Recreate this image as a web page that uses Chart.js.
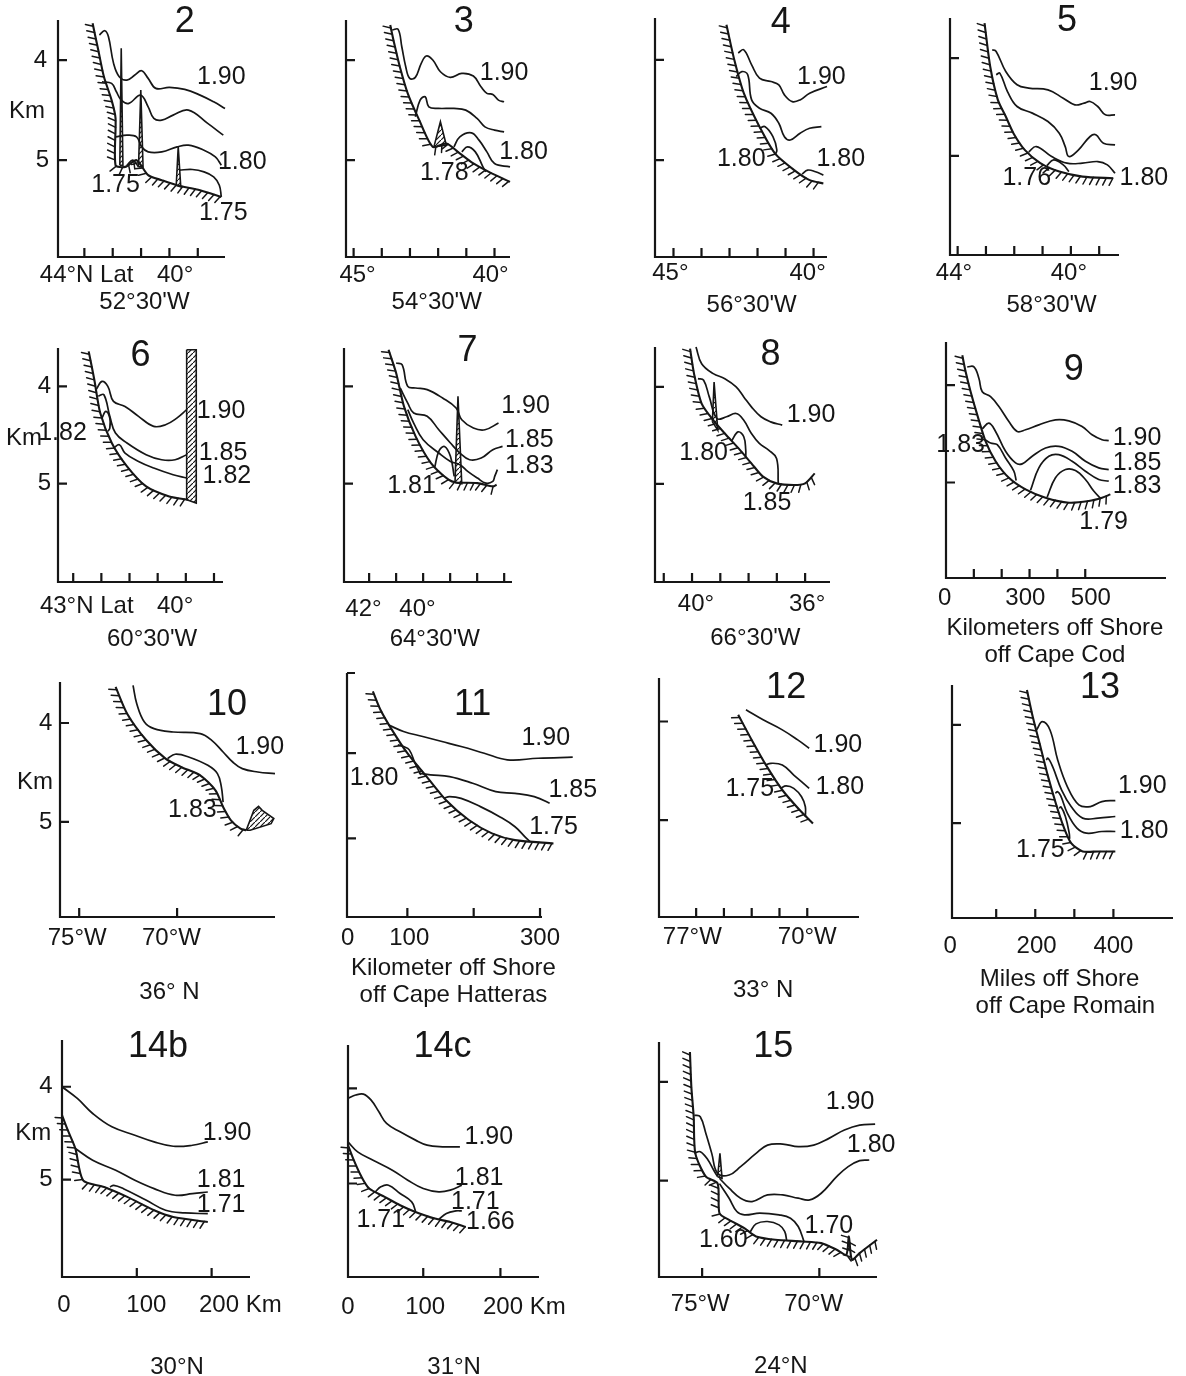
<!DOCTYPE html>
<html>
<head>
<meta charset="utf-8">
<script src="https://cdn.jsdelivr.net/npm/chart.js@4.4.1/dist/chart.umd.min.js"></script>
<style>
html, body { margin: 0; padding: 0; background: #fff; overflow: hidden; }
#page { position: relative; width: 1186px; height: 1376px; }
#page canvas { position: absolute; }
</style>
</head>
<body>
<div id="page"></div>
<script>
// ---- data: [x, depth km] pairs ----
const yTicks = [4, 5];

// 2
const p2_xTicks = [43, 42, 41, 40, 39];
const p2_bottom = [[42.71,3.633],[42.51,3.9],[42.31,4.167],[42.04,4.4],[41.90,4.583],[41.90,5.05],[41.56,5.067],[41.16,5.0],[40.75,5.15],[40.27,5.2],[39.73,5.25],[38.92,5.3],[38.17,5.367]];
const p2_spikes = [[[41.75,5.05],[41.70,3.883],[41.64,5.05]], [[41.09,5.067],[41.01,4.3],[40.93,5.067]], [[39.76,5.25],[39.69,4.867],[39.60,5.267]]];
const p2_c190 = [[42.47,3.75],[42.28,3.707],[42.15,3.767],[41.97,4.033],[41.77,4.167],[41.50,4.2],[41.22,4.15],[40.98,4.107],[40.75,4.183],[40.48,4.283],[40.00,4.273],[39.46,4.293],[38.92,4.35],[38.44,4.417],[38.04,4.483]];
const p2_c185 = [[42.38,4.217],[42.04,4.233],[41.87,4.317],[41.70,4.4],[41.43,4.433],[41.02,4.35],[40.75,4.467],[40.55,4.583],[40.27,4.6],[39.87,4.55],[39.33,4.5],[38.65,4.633],[38.10,4.75]];
const p2_c180 = [[41.90,4.767],[41.50,4.75],[41.16,4.767],[40.98,4.867],[40.75,4.917],[40.27,4.917],[39.73,4.867],[39.33,4.85],[38.78,4.9],[38.38,4.967],[38.17,5.05]];
const p2_c175a = [[41.50,5.05],[41.29,5.0],[41.09,5.067]];
const p2_c175b = [[39.66,5.1],[39.19,5.093],[38.78,5.117],[38.44,5.167],[38.24,5.25],[38.17,5.367]];
const p2_labels = [['1.90',38.17,4.167],['1.80',37.43,5.017],['1.75',41.90,5.25],['1.75',38.10,5.533]];
const p2_axisText = [['4',44.55,4.0],['5',44.48,5.0],['Km',45.02,4.517],['44°N Lat',42.92,6.15],['40°',39.80,6.15],["52°30'W",40.88,6.417]];
const p2_title = ['2',39.46,3.617];

// 3
const p3_xTicks = [45, 44, 43, 42, 41, 40];
const p3_bottom = [[43.70,3.65],[43.56,3.833],[43.36,4.067],[43.08,4.333],[42.67,4.6],[42.19,4.867],[41.71,4.833],[41.30,4.917],[40.75,5.033],[40.20,5.117],[39.45,5.217]];
const p3_spikes = [[[42.15,4.867],[41.92,4.617],[41.71,4.85]]];
const p3_c190 = [[43.63,3.7],[43.42,3.693],[43.29,3.867],[43.15,4.067],[43.01,4.183],[42.81,4.173],[42.60,4.033],[42.42,3.96],[42.19,4.0],[41.92,4.117],[41.57,4.173],[41.16,4.133],[40.75,4.16],[40.48,4.267],[40.27,4.333],[40.06,4.343],[39.86,4.4],[39.66,4.417]];
const p3_c185 = [[42.81,4.567],[42.64,4.4],[42.46,4.367],[42.33,4.467],[41.99,4.483],[41.44,4.483],[41.02,4.5],[40.62,4.583],[40.34,4.667],[40.00,4.7],[39.66,4.717]];
const p3_c180 = [[41.44,4.867],[41.23,4.767],[40.82,4.727],[40.55,4.8],[40.27,4.917],[40.00,5.033],[39.45,5.067]];
const p3_c178 = [[41.16,4.917],[40.96,4.867],[40.68,4.917],[40.41,5.067],[40.31,5.117]];
const p3_labels = [['1.90',39.66,4.133],['1.80',38.97,4.917],['1.78',41.78,5.127]];
const p3_axisText = [['45°',44.86,6.15],['40°',40.14,6.15],["54°30'W",42.05,6.417]];
const p3_title = ['3',41.09,3.617];

// 4
const p4_xTicks = [45, 44, 43, 42, 41, 40];
const p4_bottom = [[43.11,3.65],[42.83,4.0],[42.49,4.333],[41.93,4.667],[41.38,4.933],[40.69,5.1],[40.14,5.2],[39.65,5.233]];
const p4_c190 = [[42.69,3.933],[42.49,3.9],[42.21,4.05],[41.93,4.183],[41.52,4.217],[41.24,4.25],[41.04,4.35],[40.76,4.417],[40.48,4.4],[40.14,4.333],[39.52,4.267]];
const p4_c185 = [[42.76,4.167],[42.56,4.117],[42.35,4.15],[42.21,4.4],[41.93,4.483],[41.52,4.533],[41.24,4.633],[41.04,4.767],[40.83,4.8],[40.48,4.733],[40.14,4.683],[39.72,4.667]];
const p4_c180a = [[41.93,4.683],[41.73,4.667],[41.45,4.767],[41.31,4.9],[41.38,4.95]];
const p4_c180b = [[40.41,5.14],[40.21,5.1],[39.93,5.117],[39.65,5.15]];
const p4_labels = [['1.90',39.72,4.173],['1.80',42.58,4.993],['1.80',39.03,4.993]];
const p4_axisText = [['45°',45.11,6.133],['40°',40.21,6.133],["56°30'W",42.21,6.45]];
const p4_title = ['4',41.17,3.63];

// 5
const p5_xTicks = [44, 43, 42, 41, 40, 39];
const p5_bottom = [[43.05,3.642],[42.85,4.086],[42.58,4.427],[42.30,4.598],[42.03,4.768],[41.63,4.939],[41.08,5.075],[40.41,5.161],[39.59,5.212],[38.51,5.229]];
const p5_c190 = [[42.78,3.915],[42.64,3.932],[42.30,4.137],[41.90,4.273],[41.49,4.307],[40.81,4.325],[40.27,4.41],[39.86,4.478],[39.53,4.461],[39.32,4.444],[39.05,4.495],[38.78,4.58],[38.44,4.58]];
const p5_c185 = [[42.64,4.171],[42.51,4.154],[42.24,4.342],[41.90,4.495],[41.36,4.563],[40.81,4.649],[40.41,4.768],[40.20,4.905],[40.07,5.007],[39.73,4.939],[39.32,4.802],[39.12,4.785],[38.85,4.871],[38.44,4.888]];
const p5_c180 = [[41.49,4.96],[41.22,4.905],[40.68,5.007],[40.14,5.075],[39.59,5.075],[39.05,5.058],[38.71,5.092],[38.44,5.178]];
const p5_c176 = [[40.85,5.1],[40.61,5.041],[40.27,5.092],[40.07,5.161]];
const p5_labels = [['1.90',38.51,4.256],['1.76',41.56,5.229],['1.80',37.42,5.229]];
const p5_axisText = [['44°',44.13,6.2],['40°',40.07,6.2],["58°30'W",40.68,6.526]];
const p5_title = ['5',40.14,3.625];

// 6
const p6_xTicks = [43, 42, 41, 40, 39, 38];
const p6_bottom = [[42.45,3.641],[42.25,3.932],[42.04,4.274],[41.63,4.582],[41.09,4.822],[40.41,5.028],[39.59,5.131],[38.91,5.165]];
const p6_wall = [[[38.97,3.624],[38.63,3.624],[38.63,5.199],[38.97,5.165]]];
const p6_c190 = [[42.18,4.03],[41.98,3.949],[41.77,4.0],[41.57,4.154],[41.16,4.206],[40.68,4.308],[40.14,4.411],[39.72,4.394],[39.32,4.326],[38.97,4.24]];
const p6_c185 = [[42.11,4.1],[41.91,4.086],[41.70,4.308],[41.50,4.48],[41.09,4.582],[40.41,4.702],[39.86,4.754],[39.38,4.754],[38.97,4.702]];
const p6_c182 = [[41.57,4.634],[41.36,4.6],[41.16,4.685],[40.68,4.771],[40.14,4.839],[39.45,4.908],[38.97,4.942]];
const p6_c182b = [[41.98,4.326],[41.84,4.257],[41.70,4.326],[41.70,4.428],[41.77,4.463]];
const p6_labels = [['1.82',43.38,4.48],['1.90',37.75,4.257],['1.85',37.68,4.685],['1.82',37.54,4.925]];
const p6_axisText = [['4',44.02,4.0],['5',44.02,5.0],['Km',44.75,4.531],['43°N Lat',42.52,6.26],['40°',39.38,6.26],["60°30'W",40.20,6.603]];
const p6_title = ['6',40.61,3.692];

// 7
const p7_xTicks = [42, 41, 40, 39, 38, 37];
const p7_bottom = [[41.28,3.624],[41.0,3.863],[40.71,4.206],[40.28,4.514],[39.71,4.788],[39.06,4.959],[38.78,4.987],[37.99,4.994],[37.42,5.028],[37.28,5.011]];
const p7_spikes = [[[38.82,4.987],[38.71,4.103],[38.57,5.0]]];
const p7_c190 = [[41.0,3.76],[40.78,3.778],[40.57,4.0],[40.28,4.017],[39.85,4.034],[39.28,4.12],[38.78,4.223],[38.57,4.343],[38.14,4.428],[37.71,4.446],[37.21,4.377]];
const p7_c185 = [[40.85,4.017],[40.57,4.172],[40.35,4.274],[39.85,4.308],[39.42,4.446],[38.99,4.582],[38.64,4.685],[38.28,4.754],[37.85,4.737],[37.42,4.651],[37.06,4.617]];
const p7_c183 = [[40.57,4.24],[40.35,4.377],[40.0,4.548],[39.42,4.685],[38.99,4.771],[38.64,4.805],[38.35,4.873],[37.99,4.942],[37.68,4.994],[37.42,4.976],[37.35,4.925],[37.25,4.856]];
const p7_c181 = [[39.57,4.83],[39.42,4.668],[39.21,4.617],[38.99,4.719],[38.85,4.925]];
const p7_labels = [['1.90',36.21,4.206],['1.85',36.07,4.548],['1.83',36.07,4.822],['1.81',40.43,5.028]];
const p7_axisText = [['42°',42.21,6.295],['40°',40.21,6.295],["64°30'W",39.57,6.603]];
const p7_title = ['7',38.36,3.641];

// 8
const p8_xTicks = [41, 40, 39, 38, 37, 36];
const p8_bottom = [[40.07,3.606],[39.93,3.863],[39.66,4.172],[39.25,4.343],[38.84,4.48],[38.30,4.651],[37.90,4.788],[37.49,4.925],[37.01,4.994],[36.40,5.011],[36.0,4.994],[35.66,4.891]];
const p8_spikes = [[[39.28,4.36],[39.22,3.949],[39.09,4.446]]];
const p8_c190 = [[39.86,3.589],[39.66,3.761],[39.25,3.863],[38.84,3.915],[38.44,4.0],[38.17,4.103],[37.90,4.206],[37.56,4.308],[37.22,4.36],[36.81,4.394]];
const p8_c185 = [[39.79,3.915],[39.59,3.932],[39.39,4.103],[39.12,4.326],[38.78,4.308],[38.44,4.274],[38.17,4.343],[37.90,4.48],[37.62,4.582],[37.29,4.651],[37.01,4.737],[36.95,4.994]];
const p8_c180 = [[38.60,4.555],[38.37,4.463],[38.17,4.514],[38.10,4.651],[38.10,4.719]];
const p8_labels = [['1.90',35.79,4.291],['1.80',39.59,4.685],['1.85',37.35,5.199]];
const p8_axisText = [['40°',39.86,6.243],['36°',35.93,6.243],["66°30'W",37.76,6.586]];
const p8_title = ['8',37.22,3.675];

// 9 (km off Cape Cod)
const p9_xTicks = [100, 200, 300, 400, 500];
const p9_bottom = [[58.5,3.694],[70.5,3.864],[88.4,4.068],[112.3,4.306],[142.2,4.578],[178,4.782],[225.8,4.952],[285.6,5.071],[357.3,5.156],[440.9,5.207],[512.6,5.19],[560.4,5.156],[590.3,5.122]];
const p9_c190 = [[76.4,3.813],[100.3,3.813],[118.3,3.932],[130.2,4.068],[160.1,4.119],[190,4.221],[225.8,4.374],[255.7,4.476],[285.6,4.459],[333.4,4.408],[393.1,4.357],[440.9,4.367],[488.7,4.425],[524.6,4.51],[560.4,4.561],[584.3,4.571]];
const p9_c185 = [[130.2,4.45],[154.1,4.391],[178,4.476],[213.9,4.68],[249.7,4.799],[273.6,4.809],[309.5,4.731],[357.3,4.646],[405,4.629],[452.9,4.68],[500.7,4.782],[548.5,4.85],[584.3,4.867]];
const p9_c183 = [[303.5,5.08],[333.4,4.85],[369.2,4.731],[405,4.714],[452.9,4.782],[500.7,4.884],[548.5,4.969],[584.3,4.986]];
const p9_c179 = [[363.2,5.15],[393.1,4.952],[429,4.867],[464.8,4.877],[500.7,4.969],[530.5,5.088],[554.4,5.16]];
const p9_c183b = [[140,4.56],[160.1,4.595],[184,4.612],[213.9,4.748],[243.7,4.884],[252.1,4.98]];
const p9_labels = [['1.90',686,4.544],['1.85',686,4.799],['1.83',686,5.037],['1.79',566,5.411],['1.83',52.5,4.612]];
const p9_axisText = [['0',-5,6.194],['300',285,6.194],['500',520,6.194],['Kilometers off Shore',391,6.5],['off Cape Cod',391,6.776]];
const p9_title = ['9',459,3.847];

// 10
const p10_xTicks = [75, 70];
const p10_bottom = [[73.14,3.636],[72.55,3.906],[71.57,4.175],[70.59,4.36],[69.80,4.444],[68.82,4.529],[68.04,4.68],[67.65,4.848],[67.25,4.983],[66.76,5.067],[66.47,5.084]];
const p10_knoll = [[[66.47,5.084],[66.08,4.882],[65.84,4.842],[65.65,4.882],[65.06,4.966],[65.20,5.017],[66.27,5.084]]];
const p10_c190 = [[72.25,3.62],[72.06,3.805],[71.67,3.99],[71.18,4.057],[70.20,4.091],[68.82,4.108],[68.23,4.175],[67.65,4.293],[67.16,4.394],[66.67,4.461],[65.88,4.495],[65.0,4.512]];
const p10_c183 = [[70.49,4.36],[70.10,4.316],[69.41,4.343],[68.43,4.428],[67.94,4.512],[67.74,4.646],[67.65,4.8]];
const p10_labels = [['1.90',65.78,4.242],['1.83',69.22,4.882]];
const p10_axisText = [['4',76.71,4.0],['5',76.71,5.0],['Km',77.26,4.596],['75°W',75.10,6.178],['70°W',70.29,6.178],['36° N',70.39,6.717]];
const p10_title = ['10',67.45,3.822];

// 11 (km off Cape Hatteras)
const p11_xTicks = [100, 200, 300];
const p11_bottom = [[48,3.275],[59.4,3.49],[76.8,3.726],[100,4.0],[129,4.275],[158,4.549],[192.7,4.784],[227.5,4.941],[262.3,5.02],[320.3,5.059]];
const p11_c190 = [[71,3.667],[94.2,3.745],[123.2,3.804],[152.2,3.863],[181.1,3.922],[215.9,4.0],[250.7,4.078],[297.1,4.059],[349.3,4.047]];
const p11_c185 = [[117.4,4.235],[134.8,4.255],[163.7,4.275],[198.5,4.353],[233.3,4.451],[262.3,4.471],[291.3,4.51],[314.5,4.588],[337.7,4.686],[355.1,4.714]];
const p11_c180 = [[85.5,3.902],[94.2,3.922],[102.9,3.961],[111.6,4.118],[120.3,4.255]];
const p11_c175 = [[155,4.53],[163.7,4.51],[181.1,4.53],[210.1,4.627],[239.1,4.745],[262.3,4.863],[279.7,5.0],[285.5,5.039]];
const p11_labels = [['1.90',308.7,3.824],['1.80',50,4.294],['1.85',349.3,4.431],['1.75',320.3,4.863]];
const p11_axisText = [['0',10.1,6.177],['100',102.9,6.177],['300',300,6.177],['Kilometer off Shore',169.5,6.53],['off Cape Hatteras',169.5,6.843]];
const p11_title = ['11',198.5,3.431];

// 12
const p12_xTicks = [77, 75.25, 73.5, 71.75, 70];
const p12_bottom = [[74.35,3.932],[73.50,4.187],[72.54,4.458],[71.57,4.695],[70.48,4.898],[69.64,5.034]];
const p12_c190 = [[73.86,3.882],[72.78,3.983],[71.57,4.085],[70.60,4.187],[69.88,4.271]];
const p12_c180 = [[72.66,4.441],[72.29,4.424],[71.57,4.441],[70.85,4.543],[69.88,4.678]];
const p12_c175 = [[71.69,4.678],[71.33,4.654],[70.85,4.678],[70.36,4.763],[70.12,4.865],[70.12,4.966]];
const p12_labels = [['1.90',68.07,4.237],['1.80',67.95,4.661],['1.75',73.62,4.688]];
const p12_axisText = [['77°W',77.24,6.187],['70°W',70.0,6.187],['33° N',72.78,6.729]];
const p12_title = ['12',71.33,3.661];

// 13 (miles off Cape Romain)
const p13_xTicks = [100, 200, 300, 400];
const p13_bottom = [[178.7,3.644],[193.4,3.915],[213.1,4.22],[232.8,4.526],[252.5,4.797],[272.2,5.034],[291.8,5.204],[321.3,5.288],[360.7,5.288],[404.9,5.288]];
const p13_c190 = [[203.3,4.05],[218.0,3.966],[237.7,4.051],[257.4,4.356],[282.0,4.627],[311.5,4.814],[341.0,4.831],[370.5,4.78],[404.9,4.77]];
const p13_c185 = [[227.9,4.356],[232.8,4.339],[245,4.43],[267.2,4.661],[291.8,4.831],[321.3,4.949],[360.7,4.949],[404.9,4.932]];
const p13_c180 = [[251.5,4.695],[257.4,4.68],[265,4.72],[282.0,4.898],[306.6,5.051],[331.1,5.102],[370.5,5.085],[404.9,5.085]];
const p13_c175 = [[261.3,4.848],[266,4.835],[277.1,4.932],[286.9,5.102],[288,5.16]];
const p13_labels = [['1.90',473.8,4.627],['1.80',478.7,5.085],['1.75',213.1,5.271]];
const p13_axisText = [['0',-18,6.254],['200',203.3,6.254],['400',400,6.254],['Miles off Shore',262.3,6.593],['off Cape Romain',277.1,6.865]];
const p13_title = ['13',365.6,3.627];

// 14b
const p14b_xTicks = [100, 200];
const p14b_bottom = [[0,4.306],[7.7,4.468],[17.9,4.666],[28.2,5.008],[56.4,5.08],[87.2,5.187],[123.1,5.331],[148.7,5.403],[194.9,5.457]];
const p14b_c190 = [[0,4.0],[20.5,4.126],[41,4.288],[66.7,4.432],[97.4,4.522],[123.1,4.594],[148.7,4.641],[174.4,4.63],[194.9,4.594]];
const p14b_c181 = [[17.9,4.666],[41,4.792],[71.8,4.9],[97.4,5.008],[123.1,5.098],[151.3,5.169],[174.4,5.152],[194.9,5.134]];
const p14b_c171 = [[64.1,5.08],[69.2,5.062],[82.1,5.098],[112.8,5.223],[138.5,5.331],[164.1,5.36],[194.9,5.367]];
const p14b_labels = [['1.90',220.5,4.504],['1.81',212.8,5.008],['1.71',212.8,5.277]];
const p14b_axisText = [['4',-21.5,4.0],['5',-21.5,5.0],['Km',-38.5,4.504],['0',2.6,6.356],['100',112.8,6.356],['200 Km',238.4,6.356],['30°N',153.8,7.022]];
const p14b_title = ['14b',128.2,3.569];

// 14c
const p14c_xTicks = [100, 200];
const p14c_bottom = [[2.5,4.597],[10,4.755],[20,4.93],[30,5.053],[50,5.141],[70,5.228],[90,5.299],[115,5.369],[135,5.404],[155,5.457]];
const p14c_c190 = [[2.5,4.105],[12.5,4.07],[22.5,4.06],[32.5,4.123],[42.5,4.246],[52.5,4.369],[70,4.457],[90,4.544],[105,4.597],[125,4.614],[147.5,4.614]];
const p14c_c181 = [[2.5,4.562],[15,4.667],[35,4.755],[60,4.86],[80,4.965],[100,5.053],[120,5.088],[135,5.07],[150,5.018]];
const p14c_c171 = [[37.5,5.09],[45,5.035],[55,5.018],[70,5.105],[85,5.193],[90,5.29]];
const p14c_c166 = [[120,5.38],[130,5.316],[142.5,5.288],[150,5.288]];
const p14c_labels = [['1.90',185,4.509],['1.81',172.5,4.948],['1.71',167.5,5.193],['1.66',187,5.41],['1.71',45,5.386]];
const p14c_axisText = [['0',2.5,6.299],['100',102.5,6.299],['200 Km',231,6.299],['31°N',140,6.93]];
const p14c_title = ['14c',125,3.562];

// 15
const p15_xTicks = [75, 70];
const p15_bottom = [[75.52,3.697],[75.46,4.05],[75.36,4.353],[75.29,4.724],[74.84,4.96],[74.34,5.027],[74.26,5.33],[73.85,5.397],[73.20,5.481],[72.70,5.566],[71.88,5.599],[70.74,5.616],[69.92,5.633],[69.26,5.7],[68.85,5.751],[68.74,5.566],[68.61,5.801],[68.28,5.734],[67.54,5.599]];
const p15_spikes = [[[74.34,4.96],[74.24,4.724],[74.15,4.976]]];
const p15_c190 = [[75.33,4.337],[75.08,4.353],[74.84,4.522],[74.59,4.724],[74.34,4.926],[73.85,4.943],[73.36,4.858],[72.70,4.724],[72.21,4.64],[71.56,4.63],[70.90,4.656],[70.24,4.64],[69.59,4.572],[68.93,4.488],[68.28,4.438],[67.62,4.428]];
const p15_c185 = [[75.33,4.724],[75.08,4.707],[74.75,4.791],[74.51,4.892],[74.34,4.96]];
const p15_c180 = [[74.26,4.976],[73.85,5.077],[73.36,5.178],[72.87,5.212],[72.21,5.145],[71.56,5.145],[70.90,5.178],[70.41,5.195],[69.92,5.128],[69.26,4.96],[68.77,4.858],[68.28,4.798],[67.87,4.791]];
const p15_c170 = [[74.26,5.03],[73.85,5.178],[73.52,5.313],[73.20,5.347],[72.54,5.33],[71.72,5.347],[71.23,5.38],[70.90,5.465],[70.65,5.62]];
const p15_c160 = [[72.95,5.52],[72.70,5.438],[72.21,5.414],[71.72,5.448],[71.48,5.515],[71.39,5.61]];
const p15_labels = [['1.90',68.69,4.202],['1.80',67.79,4.64],['1.70',69.59,5.465],['1.60',74.10,5.599]];
const p15_axisText = [['75°W',75.08,6.256],['70°W',70.24,6.256],['24°N',71.64,6.879]];
const p15_title = ['15',71.97,3.646];

// ---- layout: axis box [left, top, right, bottom] in page px, and axis ranges ----
const panels = [
  { box: [58, 20, 225, 257],    xr: [38.04, 43.93], rev: true,  yr: [3.6, 5.967],   xTicks: p2_xTicks,  lines: [p2_c190, p2_c185, p2_c180, p2_c175a, p2_c175b], bottom: p2_bottom, fills: p2_spikes, labels: p2_labels, axisText: p2_axisText, title: p2_title },
  { box: [346, 20, 510, 257],   xr: [39.45, 45.27], rev: true,  yr: [3.6, 5.967],   xTicks: p3_xTicks,  lines: [p3_c190, p3_c185, p3_c180, p3_c178], bottom: p3_bottom, fills: p3_spikes, labels: p3_labels, axisText: p3_axisText, title: p3_title },
  { box: [655, 18, 827, 257],   xr: [39.52, 45.66], rev: true,  yr: [3.583, 5.967], xTicks: p4_xTicks,  lines: [p4_c190, p4_c185, p4_c180a, p4_c180b], bottom: p4_bottom, fills: [], labels: p4_labels, axisText: p4_axisText, title: p4_title },
  { box: [950, 18, 1119, 255],  xr: [38.30, 44.27], rev: true,  yr: [3.59, 6.014],  xTicks: p5_xTicks,  lines: [p5_c190, p5_c185, p5_c180, p5_c176], bottom: p5_bottom, fills: [], labels: p5_labels, axisText: p5_axisText, title: p5_title },
  { box: [58, 348, 223, 582],   xr: [37.68, 43.54], rev: true,  yr: [3.606, 6.01],  xTicks: p6_xTicks,  lines: [p6_c190, p6_c185, p6_c182, p6_c182b], bottom: p6_bottom, fills: p6_wall, labels: p6_labels, axisText: p6_axisText, title: p6_title },
  { box: [344, 348, 512, 582],  xr: [36.71, 42.93], rev: true,  yr: [3.606, 6.01],  xTicks: p7_xTicks,  lines: [p7_c190, p7_c185, p7_c183, p7_c181], bottom: p7_bottom, fills: p7_spikes, labels: p7_labels, axisText: p7_axisText, title: p7_title },
  { box: [655, 347, 830, 582],  xr: [35.12, 41.31], rev: true,  yr: [3.589, 6.01],  xTicks: p8_xTicks,  lines: [p8_c190, p8_c185, p8_c180], bottom: p8_bottom, fills: p8_spikes, labels: p8_labels, axisText: p8_axisText, title: p8_title },
  { box: [946, 342, 1166, 578], xr: [0, 790],       rev: false, yr: [3.558, 5.98],  xTicks: p9_xTicks,  lines: [p9_c190, p9_c185, p9_c183, p9_c179, p9_c183b], bottom: p9_bottom, fills: [], labels: p9_labels, axisText: p9_axisText, title: p9_title },
  { box: [60, 682, 275, 917],   xr: [65.0, 75.98],  rev: true,  yr: [3.586, 5.96],  xTicks: p10_xTicks, lines: [p10_c190, p10_c183], bottom: p10_bottom, fills: p10_knoll, labels: p10_labels, axisText: p10_axisText, title: p10_title },
  { box: [347, 673, 542, 917],  xr: [9, 303],       rev: false, yr: [3.059, 5.922], xTicks: p11_xTicks, lines: [p11_c190, p11_c185, p11_c180, p11_c175], bottom: p11_bottom, fills: [], labels: p11_labels, axisText: p11_axisText, title: p11_title, cap: true },
  { box: [659, 678, 859, 917],  xr: [66.74, 79.34], rev: true,  yr: [3.559, 5.983], xTicks: p12_xTicks, lines: [p12_c190, p12_c180, p12_c175], bottom: p12_bottom, fills: [], labels: p12_labels, axisText: p12_axisText, title: p12_title },
  { box: [952, 685, 1173, 918], xr: [-13.1, 552.5], rev: false, yr: [3.593, 5.966], xTicks: p13_xTicks, lines: [p13_c190, p13_c185, p13_c180, p13_c175], bottom: p13_bottom, fills: [], labels: p13_labels, axisText: p13_axisText, title: p13_title },
  { box: [62, 1040, 250, 1277], xr: [0, 251.3],     rev: false, yr: [3.496, 6.05],  xTicks: p14b_xTicks, lines: [p14b_c190, p14b_c181, p14b_c171], bottom: p14b_bottom, fills: [], labels: p14b_labels, axisText: p14b_axisText, title: p14b_title },
  { box: [348, 1045, 539, 1277], xr: [2.5, 250],    rev: false, yr: [3.544, 5.983], xTicks: p14c_xTicks, lines: [p14c_c190, p14c_c181, p14c_c171, p14c_c166], bottom: p14c_bottom, fills: [], labels: p14c_labels, axisText: p14c_axisText, title: p14c_title },
  { box: [659, 1042, 877, 1277], xr: [67.54, 76.84], rev: true, yr: [3.596, 5.976], xTicks: p15_xTicks, lines: [p15_c190, p15_c185, p15_c180, p15_c170, p15_c160], bottom: p15_bottom, fills: p15_spikes, labels: p15_labels, axisText: p15_axisText, title: p15_title }
];

const INK = '#161616';
const PAD = { left: 70, top: 40, right: 95, bottom: 110 };
const LABEL_FONT = '25px "Liberation Sans", Arial, sans-serif';
const AXIS_FONT = '24px "Liberation Sans", Arial, sans-serif';
const TITLE_FONT = '36px "Liberation Sans", Arial, sans-serif';

const toXY = a => a.map(([x, y]) => ({ x, y }));

function makePattern() {
  const c = document.createElement('canvas');
  c.width = 5; c.height = 5;
  const g = c.getContext('2d');
  g.strokeStyle = INK; g.lineWidth = 1.2;
  g.beginPath();
  g.moveTo(-1, 6); g.lineTo(6, -1);
  g.stroke();
  return g.createPattern(c, 'repeat');
}
const hatchFill = makePattern();

// short slanted strokes on the sea-floor side of the bottom profile
function drawHatch(ctx, els) {
  const path = [];
  for (let i = 0; i < els.length - 1; i++) {
    const a = els[i], b = els[i + 1];
    const c1x = a.cp2x ?? a.x, c1y = a.cp2y ?? a.y;
    const c2x = b.cp1x ?? b.x, c2y = b.cp1y ?? b.y;
    for (let k = 0; k < 12; k++) {
      const t = k / 12, u = 1 - t;
      path.push([u*u*u*a.x + 3*u*u*t*c1x + 3*u*t*t*c2x + t*t*t*b.x,
                 u*u*u*a.y + 3*u*u*t*c1y + 3*u*t*t*c2y + t*t*t*b.y]);
    }
  }
  const last = els[els.length - 1];
  path.push([last.x, last.y]);
  const gap = 6.5, len = 8, ang = 25 * Math.PI / 180;
  let next = 3, acc = 0;
  ctx.beginPath();
  for (let i = 0; i < path.length - 1; i++) {
    const [x0, y0] = path[i], [x1, y1] = path[i + 1];
    const seg = Math.hypot(x1 - x0, y1 - y0);
    if (!seg) continue;
    const dx = (x1 - x0) / seg, dy = (y1 - y0) / seg;
    const nx = -dy, ny = dx;
    const hx = nx * Math.cos(ang) - ny * Math.sin(ang);
    const hy = nx * Math.sin(ang) + ny * Math.cos(ang);
    while (next <= acc + seg) {
      const f = next - acc;
      const px = x0 + dx * f, py = y0 + dy * f;
      ctx.moveTo(px, py);
      ctx.lineTo(px + hx * len, py + hy * len);
      next += gap;
    }
    acc += seg;
  }
  ctx.stroke();
}

function sectionPlugin(p) {
  return {
    id: 'section',
    afterDatasetsDraw(chart) {
      const ctx = chart.ctx;
      ctx.save();
      ctx.strokeStyle = INK; ctx.lineWidth = 1.5; ctx.lineCap = 'round';
      chart.data.datasets.forEach((ds, i) => {
        if (ds.hatch) drawHatch(ctx, chart.getDatasetMeta(i).data);
      });
      ctx.restore();
    },
    afterDraw(chart) {
      const ctx = chart.ctx, a = chart.chartArea;
      const xs = chart.scales.x, ys = chart.scales.y;
      ctx.save();
      ctx.strokeStyle = INK; ctx.lineWidth = 2.2;
      ctx.beginPath();
      ctx.moveTo(a.left, a.top); ctx.lineTo(a.left, a.bottom); ctx.lineTo(a.right, a.bottom);
      if (p.cap) { ctx.moveTo(a.left, a.top); ctx.lineTo(a.left + 8, a.top); }
      p.xTicks.forEach(v => {
        const x = xs.getPixelForValue(v);
        ctx.moveTo(x, a.bottom); ctx.lineTo(x, a.bottom - 9);
      });
      yTicks.forEach(v => {
        const y = ys.getPixelForValue(v);
        ctx.moveTo(a.left, y); ctx.lineTo(a.left + 9, y);
      });
      ctx.stroke();
      ctx.fillStyle = INK;
      ctx.textAlign = 'center';
      ctx.textBaseline = 'middle';
      const put = (list, font) => {
        ctx.font = font;
        list.forEach(([t, x, y]) => ctx.fillText(t, xs.getPixelForValue(x), ys.getPixelForValue(y)));
      };
      put(p.axisText, AXIS_FONT);
      put(p.labels, LABEL_FONT);
      put([p.title], TITLE_FONT);
      ctx.restore();
    }
  };
}

const page = document.getElementById('page');
panels.forEach(p => {
  const [L, T, R, B] = p.box;
  const canvas = document.createElement('canvas');
  const w = R - L + PAD.left + PAD.right, h = B - T + PAD.top + PAD.bottom;
  canvas.width = w; canvas.height = h;
  canvas.style.left = (L - PAD.left) + 'px';
  canvas.style.top = (T - PAD.top) + 'px';
  canvas.style.width = w + 'px';
  canvas.style.height = h + 'px';
  page.appendChild(canvas);

  const datasets = [];
  p.lines.forEach(l => datasets.push({
    data: toXY(l), borderColor: INK, borderWidth: 1.7, tension: 0.4,
    pointRadius: 0, fill: false, clip: false
  }));
  datasets.push({
    data: toXY(p.bottom), borderColor: INK, borderWidth: 2.1, tension: 0.25,
    pointRadius: 0, fill: false, clip: false, hatch: true
  });
  p.fills.forEach(f => datasets.push({
    data: toXY(f.concat([f[0]])), borderColor: INK, borderWidth: 1.6, tension: 0,
    pointRadius: 0, fill: 'shape', backgroundColor: hatchFill, clip: false
  }));

  new Chart(canvas, {
    type: 'line',
    data: { datasets },
    options: {
      responsive: false,
      animation: false,
      devicePixelRatio: 1,
      layout: { padding: PAD },
      plugins: { legend: { display: false }, tooltip: { enabled: false } },
      scales: {
        x: { type: 'linear', min: p.xr[0], max: p.xr[1], reverse: p.rev, display: false },
        y: { type: 'linear', min: p.yr[0], max: p.yr[1], reverse: true, display: false }
      }
    },
    plugins: [sectionPlugin(p)]
  });
});
</script>
</body>
</html>
